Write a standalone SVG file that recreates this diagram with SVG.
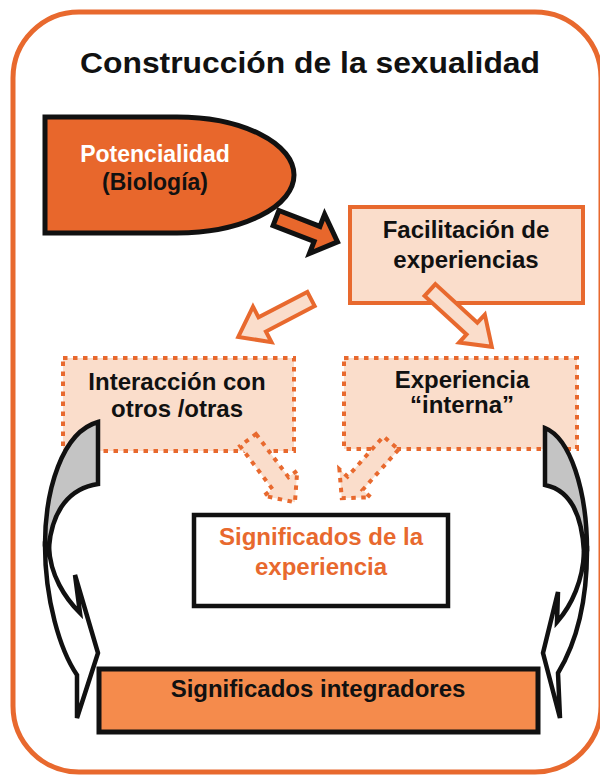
<svg xmlns="http://www.w3.org/2000/svg" width="600" height="775" viewBox="0 0 600 775">
<style>
text{font-family:"Liberation Sans",Arial,sans-serif;font-weight:bold;text-anchor:middle}
.t24{font-size:24px;fill:#111}
.org{fill:#E8692E}
.wht{fill:#fff}
.blk-arrow{fill:#E8672C;stroke:#111;stroke-width:5;stroke-linejoin:miter}
.pe-arrow{fill:#FADDCB;stroke:#E8692E;stroke-width:4;stroke-linejoin:miter}
.dot{fill:#FADDCB;stroke:#E8692E;stroke-width:4;stroke-dasharray:4.5 5.5}
.curve{stroke:#111;stroke-width:4.5;stroke-linejoin:miter}
</style>
<rect x="13" y="12" width="588" height="760" rx="66" fill="#fff" stroke="#E8692E" stroke-width="5"/>
<text x="310" y="73" font-size="29" textLength="460" lengthAdjust="spacingAndGlyphs" fill="#111">Construcción de la sexualidad</text>

<g id="potencialidad">
<path d="M45,117 L177,117 A117,58 0 0 1 177,233 L45,233 Z" fill="#E8672C" stroke="#111" stroke-width="5"/>
<text class="wht" x="155" y="162" font-size="23">Potencialidad</text>
<text x="155" y="190" font-size="23" fill="#111">(Biología)</text>
</g>

<g id="facilitacion">
<rect x="350" y="207" width="233" height="96" fill="#FADDCB" stroke="#E8692E" stroke-width="4"/>
<text class="t24" x="466" y="238">Facilitación de</text>
<text class="t24" x="466" y="268">experiencias</text>
</g>

<g id="interaccion">
<rect x="63" y="358" width="231" height="93" class="dot"/>
<text class="t24" x="177" y="390">Interacción con</text>
<text class="t24" x="177" y="417">otros /otras</text>
</g>

<g id="experiencia">
<rect x="344" y="358" width="233" height="91" class="dot"/>
<text class="t24" x="462" y="388">Experiencia</text>
<text class="t24" x="462" y="413">“interna”</text>
</g>

<g id="significados-experiencia">
<rect x="194" y="515" width="254" height="91" fill="#fff" stroke="#111" stroke-width="4.5"/>
<text class="org" x="321" y="545" font-size="24">Significados de la</text>
<text class="org" x="321" y="575" font-size="24">experiencia</text>
</g>

<g id="significados-integradores">
<rect x="99" y="669" width="439" height="63" fill="#F58B4C" stroke="#111" stroke-width="5"/>
<text class="t24" x="318" y="697">Significados integradores</text>
</g>

<g id="connectors">
<polygon class="blk-arrow" transform="translate(276,218) rotate(21.2)" points="0,-8 44,-8 44,-21 66,0 44,21 44,8 0,8"/>
<polygon class="pe-arrow" transform="translate(311,299) rotate(152.5)" points="0,-8 55,-8 55,-20 82,0 55,20 55,8 0,8"/>
<polygon class="pe-arrow" transform="translate(430,290) rotate(42.6)" points="0,-8 57,-8 57,-19 84,0 57,19 57,8 0,8"/>
<polygon class="dot" transform="translate(248,440) rotate(53)" points="0,-10 54,-10 54,-21 78,0 54,21 54,10 0,10"/>
<polygon class="dot" transform="translate(391,443) rotate(131.7)" points="0,-10 54,-10 54,-21 74,0 54,21 54,10 0,10"/>
<path class="curve" fill="#C4C4C4" d="M98,422 C62,432 45,490 45,545 L49,547 C52,510 70,488 98,484 Z"/>
<path class="curve" fill="#fff" d="M45,545 C45,600 60,650 77,675 L77,718 L98,653 L75,575 L80,613 C65,598 50,575 49,547 Z"/>
<path class="curve" fill="#C4C4C4" d="M545,428 C570,438 587,490 587,550 L584,552 C582,515 570,490 545,485 Z"/>
<path class="curve" fill="#fff" d="M587,550 C587,600 578,640 558,673 L560,718 L543,653 L558,592 L557,622 C572,605 583,580 584,552 Z"/>
</g>
</svg>
